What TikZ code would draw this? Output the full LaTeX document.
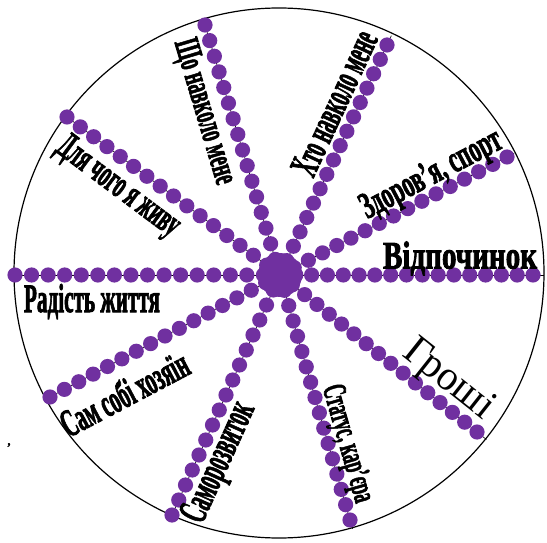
\documentclass[tikz,border=0pt]{standalone}
\usepackage{fontspec}
\usepackage{graphicx}
\setmainfont{Liberation Serif}[BoldFeatures={FakeBold=2.5}]
\usetikzlibrary{calc}
\definecolor{dotpurple}{HTML}{7030A0}
\newcommand\fitlbl[3]{\raisebox{0pt}[\height][0pt]{\resizebox{#1}{#2}{#3}}}
\tikzset{
  lbl/.style={inner sep=0pt, font=\bfseries},
  lblreg/.style={inner sep=0pt},
  rim/.style={draw=black, line width=1.2pt},
  axisline/.style={draw=black, line width=0.6pt},
  bead/.style={fill=dotpurple}
}
\begin{document}
\begin{tikzpicture}[x=1pt,y=1pt]
\useasboundingbox (0,0) rectangle (547,542);
\fill[white] (0,0) rectangle (547,542);
% outer circle
\coordinate (O) at (279,269);
\draw[rim] (O) circle (265pt);
% star centre and ray ends
\coordinate (C) at (280,267);
\coordinate (eR) at (533,267);
\coordinate (eL) at (15,267);
\coordinate (eZd) at (507,385);
\coordinate (eSam) at (50,145);
\coordinate (eXto) at (387,497);
\coordinate (eSamo) at (172,27);
\coordinate (eSho) at (205,517);
\coordinate (eSt) at (350,22);
\coordinate (eDl) at (67,425);
\coordinate (eGr) at (477,110);
% thin black axes
\foreach \e in {eR,eL,eZd,eSam,eXto,eSamo,eSho,eSt,eDl,eGr}{
  \draw[axisline] (C) -- ($(C)!264pt!(\e)$);
}
% beads
\foreach \e in {eR,eL,eZd,eSam,eXto,eSamo,eSho,eSt,eDl,eGr}{
  \foreach \i in {1,...,16}{
    \fill[bead] ($(C)!\i/16!(\e)$) circle (7.6pt);
  }
}
\fill[bead] (C) circle (22pt);
% labels
\node[lbl, rotate=-73.4] (tSho) at (207,431) {\fitlbl{150pt}{23pt}{Що навколо мене}};
\node[lbl, rotate=65.1] (tXto) at (334,439) {\fitlbl{155pt}{26pt}{Хто навколо мене}};
\node[lbl, rotate=-36.7] (tDl) at (120,358) {\fitlbl{145pt}{25pt}{Для чого я живу}};
\node[lbl, rotate=27.7] (tZd) at (430,370) {\fitlbl{155pt}{25pt}{Здоров'я, спорт}};
\node[lbl] (tVid) at (460,287) {\fitlbl{154pt}{27pt}{Відпочинок}};
\node[lbl] (tRad) at (92,244) {\fitlbl{136pt}{28pt}{Радість життя}};
\node[lbl, rotate=27.8] (tSam) at (124,149) {\fitlbl{140pt}{28pt}{Сам собі хозяїн}};
\node[lbl, rotate=65.7] (tSamo) at (216,81) {\fitlbl{128pt}{27pt}{Саморозвиток}};
\node[lbl, rotate=-74] (tSt) at (350,99) {\fitlbl{121pt}{22pt}{Статус, кар'єра}};
\node[lblreg, rotate=-38.4] (tGr) at (451,165) {\fitlbl{104pt}{28pt}{Гроші}};
\node[lbl, font=\large\bfseries] (comma) at (9,97) {,};
\end{tikzpicture}
\end{document}
